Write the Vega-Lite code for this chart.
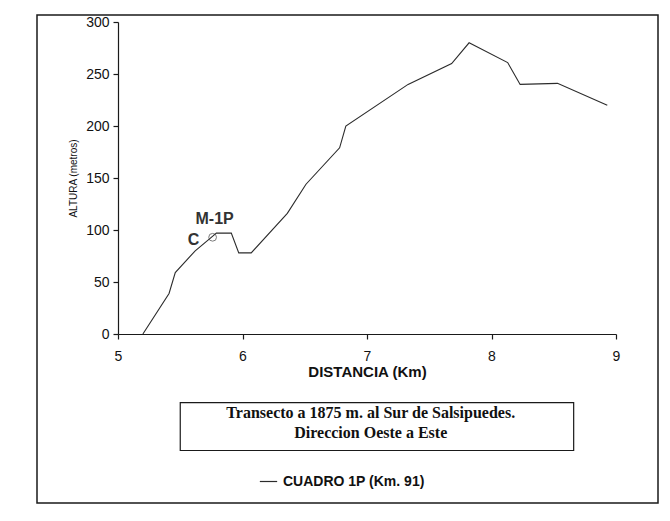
{
  "$schema": "https://vega.github.io/schema/vega-lite/v6.json",
  "width": 621,
  "height": 488,
  "autosize": {"type": "none"},
  "padding": {"left": 37, "top": 15, "right": 12, "bottom": 18},
  "background": "white",
  "config": {
    "font": "Liberation Sans",
    "view": {"stroke": "#1a1a1a", "strokeWidth": 1.5},
    "axis": {
      "grid": false,
      "domainColor": "#1a1a1a",
      "domainWidth": 1.2,
      "tickColor": "#1a1a1a",
      "tickWidth": 1.2,
      "tickSize": 5,
      "labelColor": "#111",
      "titleColor": "#111",
      "labelFont": "Liberation Sans",
      "titleFont": "Liberation Sans",
      "labelFontSize": 14
    }
  },
  "datasets": {
    "perfil": [
      {"dist": 5.20, "alt": 0, "serie": "CUADRO 1P  (Km. 91)"},
      {"dist": 5.41, "alt": 39, "serie": "CUADRO 1P  (Km. 91)"},
      {"dist": 5.46, "alt": 59, "serie": "CUADRO 1P  (Km. 91)"},
      {"dist": 5.62, "alt": 80, "serie": "CUADRO 1P  (Km. 91)"},
      {"dist": 5.74, "alt": 92, "serie": "CUADRO 1P  (Km. 91)"},
      {"dist": 5.79, "alt": 97, "serie": "CUADRO 1P  (Km. 91)"},
      {"dist": 5.91, "alt": 97, "serie": "CUADRO 1P  (Km. 91)"},
      {"dist": 5.97, "alt": 78, "serie": "CUADRO 1P  (Km. 91)"},
      {"dist": 6.07, "alt": 78, "serie": "CUADRO 1P  (Km. 91)"},
      {"dist": 6.36, "alt": 116, "serie": "CUADRO 1P  (Km. 91)"},
      {"dist": 6.51, "alt": 144, "serie": "CUADRO 1P  (Km. 91)"},
      {"dist": 6.78, "alt": 179, "serie": "CUADRO 1P  (Km. 91)"},
      {"dist": 6.83, "alt": 200, "serie": "CUADRO 1P  (Km. 91)"},
      {"dist": 7.33, "alt": 240, "serie": "CUADRO 1P  (Km. 91)"},
      {"dist": 7.68, "alt": 260, "serie": "CUADRO 1P  (Km. 91)"},
      {"dist": 7.82, "alt": 280, "serie": "CUADRO 1P  (Km. 91)"},
      {"dist": 8.13, "alt": 261, "serie": "CUADRO 1P  (Km. 91)"},
      {"dist": 8.23, "alt": 240, "serie": "CUADRO 1P  (Km. 91)"},
      {"dist": 8.53, "alt": 241, "serie": "CUADRO 1P  (Km. 91)"},
      {"dist": 8.93, "alt": 220, "serie": "CUADRO 1P  (Km. 91)"}
    ],
    "muestra": [
      {"dist": 5.76, "alt": 93, "codigo": "C", "sitio": "M-1P"}
    ],
    "leyenda": [
      {"texto": "Transecto  a 1875 m. al Sur de Salsipuedes.\nDireccion Oeste a Este"}
    ]
  },
  "layer": [
    {
      "data": {"name": "perfil"},
      "mark": {"type": "line", "strokeWidth": 1.1},
      "encoding": {
        "x": {
          "field": "dist",
          "type": "quantitative",
          "scale": {"domain": [5, 9], "range": [81, 579], "nice": false, "zero": false},
          "axis": {
            "values": [5, 6, 7, 8, 9],
            "format": "d",
            "title": "DISTANCIA (Km)",
            "offset": -169,
            "labelPadding": 10,
            "labelFlush": false,
            "titleFontSize": 15,
            "titleFontWeight": "bold",
            "titlePadding": 1
          }
        },
        "y": {
          "field": "alt",
          "type": "quantitative",
          "scale": {"domain": [0, 300], "range": [319, 7], "nice": false, "zero": false},
          "axis": {
            "values": [0, 50, 100, 150, 200, 250, 300],
            "format": "d",
            "title": "ALTURA (metros)",
            "offset": -81,
            "labelPadding": 4,
            "labelFlush": false,
            "titleFontSize": 10,
            "titleFontWeight": "normal",
            "titlePadding": 7
          }
        },
        "stroke": {
          "field": "serie",
          "type": "nominal",
          "scale": {"range": ["#2b2b2b"]},
          "legend": {
            "orient": "none",
            "legendX": 222,
            "legendY": 457,
            "title": null,
            "padding": 0,
            "symbolType": "stroke",
            "symbolSize": 300,
            "symbolStrokeWidth": 1.2,
            "labelFont": "Liberation Sans",
            "labelFontSize": 14,
            "labelFontWeight": "bold",
            "labelColor": "#111",
            "labelOffset": 5
          }
        }
      }
    },
    {
      "data": {"name": "leyenda"},
      "mark": {"type": "rect", "fill": "white", "stroke": "#1a1a1a", "strokeWidth": 1.2},
      "encoding": {"x": {"datum": 5.5}, "x2": {"datum": 8.66}, "y": {"datum": -66}, "y2": {"datum": -112}}
    },
    {
      "data": {"name": "leyenda"},
      "mark": {
        "type": "text",
        "lineBreak": "\n",
        "font": "Liberation Serif",
        "fontWeight": "bold",
        "fontSize": 16,
        "lineHeight": 20,
        "align": "center",
        "baseline": "top",
        "color": "#111"
      },
      "encoding": {"x": {"datum": 7.03}, "y": {"datum": -68.5}, "text": {"field": "texto"}}
    },
    {
      "mark": {"type": "rule", "color": "#1a1a1a", "strokeWidth": 1.2},
      "encoding": {"x": {"datum": 5}, "x2": {"datum": 9}, "y": {"datum": 300}}
    },
    {
      "mark": {"type": "rule", "color": "#1a1a1a", "strokeWidth": 1.2},
      "encoding": {"x": {"datum": 9}, "y": {"datum": 0}, "y2": {"datum": 300}}
    },
    {
      "data": {"name": "muestra"},
      "mark": {"type": "point", "filled": false, "size": 60, "color": "#444", "strokeWidth": 1},
      "encoding": {"x": {"field": "dist", "type": "quantitative"}, "y": {"field": "alt", "type": "quantitative"}}
    },
    {
      "data": {"name": "muestra"},
      "mark": {"type": "text", "font": "Liberation Sans", "fontWeight": "bold", "fontSize": 16, "color": "#333", "dx": -19, "dy": 3, "baseline": "middle", "align": "center"},
      "encoding": {"x": {"field": "dist", "type": "quantitative"}, "y": {"field": "alt", "type": "quantitative"}, "text": {"field": "codigo"}}
    },
    {
      "data": {"name": "muestra"},
      "mark": {"type": "text", "font": "Liberation Sans", "fontWeight": "bold", "fontSize": 16, "color": "#333", "dx": 2, "dy": -18, "baseline": "middle", "align": "center"},
      "encoding": {"x": {"field": "dist", "type": "quantitative"}, "y": {"field": "alt", "type": "quantitative"}, "text": {"field": "sitio"}}
    }
  ]
}
